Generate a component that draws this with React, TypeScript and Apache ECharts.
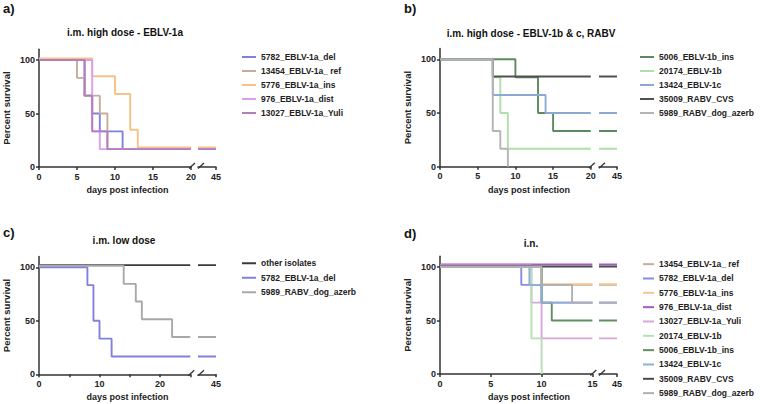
import React, { useEffect, useRef } from "react";
import * as echarts from "echarts";

const FONT = "'Liberation Sans', Arial, Helvetica, sans-serif";
const AXIS_COLOR = "#333333";
const TEXT_COLOR = "#222222";
const Y_MAX = 110;
const SEG2_START = 40;
const END_DAY = 45;
const Y_TICKS = [0, 50, 100];

// ---- Panel a: i.m. high dose - EBLV-1a
const namesA = ["5782_EBLV-1a_del", "13454_EBLV-1a_ ref", "5776_EBLV-1a_ins", "976_EBLV-1a_dist", "13027_EBLV-1a_Yuli"];
const colorsA = ["#8080e0", "#c8ab98", "#f5c384", "#dc9cf0", "#b57cbf"];
const daysA = [
  [0, 6, 7, 8, 11, 20],
  [0, 5, 6, 8, 9, 20],
  [0, 7, 10, 12, 13, 20],
  [0, 7, 8, 20],
  [0, 6, 7, 9, 20],
];
const survA = [
  [100, 66.7, 50, 33.3, 16.7, 16.7],
  [100, 83.3, 66.7, 50, 16.7, 16.7],
  [101.5, 84.8, 68.2, 34.8, 18.2, 18.2],
  [100, 33.3, 16.7, 16.7],
  [100, 66.7, 33.3, 16.7, 16.7],
];
const xTicksA = [0, 5, 10, 15, 20];
const xLabelsA = [0, 5, 10, 15, 20];

// ---- Panel b: i.m. high dose - EBLV-1b & c, RABV
const namesB = ["5006_EBLV-1b_ins", "20174_EBLV-1b", "13424_EBLV-1c", "35009_RABV_CVS", "5989_RABV_dog_azerb"];
const colorsB = ["#5d8a5d", "#ade0a8", "#8ca9d3", "#505050", "#b4b4b4"];
const daysB = [
  [0, 10, 13, 15, 20],
  [0, 7, 8, 9, 20],
  [0, 7, 14, 20],
  [0, 7, 20],
  [0, 7, 8, 9],
];
const survB = [
  [100, 83.3, 50, 33.3, 33.3],
  [100, 83.3, 50, 16.7, 16.7],
  [100, 66.7, 50, 50],
  [100, 84, 84],
  [100, 33.3, 16.7, 0],
];
const xTicksB = [0, 5, 10, 15, 20];
const xLabelsB = [0, 5, 10, 15, 20];

// ---- Panel c: i.m. low dose
const namesC = ["other isolates", "5782_EBLV-1a_del", "5989_RABV_dog_azerb"];
const colorsC = ["#3a3a3a", "#8080e0", "#a8a8a8"];
const daysC = [
  [0, 25],
  [0, 8, 9, 10, 12, 25],
  [0, 14, 16, 17, 22, 25],
];
const survC = [
  [102, 102],
  [100, 83.3, 50, 33.3, 16.7, 16.7],
  [101.5, 84.5, 68, 51.5, 34.8, 34.8],
];
const xTicksC = [0, 5, 10, 15, 20, 25];
const xLabelsC = [0, 10, 20];

// ---- Panel d: i.n.
const namesD = [
  "13454_EBLV-1a_ ref", "5782_EBLV-1a_del", "5776_EBLV-1a_ins", "976_EBLV-1a_dist", "13027_EBLV-1a_Yuli",
  "20174_EBLV-1b", "5006_EBLV-1b_ins", "13424_EBLV-1c", "35009_RABV_CVS", "5989_RABV_dog_azerb",
];
const colorsD = ["#c8ab98", "#8a8ae6", "#f3c58f", "#a35bc6", "#d6a6dc", "#b5e0b0", "#5f8f5f", "#8eaed6", "#4a4a4a", "#b0b0b0"];
const daysD = [
  [0, 10, 15],
  [0, 8, 10, 15],
  [0, 10, 15],
  [0, 15],
  [0, 9, 10, 15],
  [0, 9, 10],
  [0, 10, 11, 15],
  [0, 8.8, 10, 15],
  [0, 15],
  [0, 10, 13, 15],
];
const survD = [
  [100, 83.3, 83.3],
  [100, 83.3, 66.7, 66.7],
  [100.5, 84, 84],
  [102.5, 102.5],
  [101.5, 66.7, 33.3, 33.3],
  [100, 33.3, 0],
  [100, 66.7, 50, 50],
  [100, 83.3, 66.7, 66.7],
  [100.5, 100.5],
  [100, 83.3, 66.7, 66.7],
];
const xTicksD = [0, 5, 10, 15];
const xLabelsD = [0, 5, 10, 15];

const PANELS = [
  { letter: "a)", title: "i.m. high dose - EBLV-1a", names: namesA, colors: colorsA, days: daysA, surv: survA, breakDay: 20, xTicks: xTicksA, xLabels: xLabelsA },
  { letter: "b)", title: "i.m. high dose - EBLV-1b & c, RABV", names: namesB, colors: colorsB, days: daysB, surv: survB, breakDay: 20, xTicks: xTicksB, xLabels: xLabelsB },
  { letter: "c)", title: "i.m. low dose", names: namesC, colors: colorsC, days: daysC, surv: survC, breakDay: 25, xTicks: xTicksC, xLabels: xLabelsC },
  { letter: "d)", title: "i.n.", names: namesD, colors: colorsD, days: daysD, surv: survD, breakDay: 15, xTicks: xTicksD, xLabels: xLabelsD },
];

// layout (pixels)
const LAYOUTS = [
  { x0: 39, y0: 167, pxX: 7.6, pxY: 1.07, seg2L: 198, seg2R: 216, letter: [3, 8], title: [125, 32], xName: [127.5, 190], legend: [242, 50, 14, 14] },
  { x0: 440, y0: 166.7, pxX: 7.54, pxY: 1.074, seg2L: 599, seg2R: 617, letter: [404, 8], title: [531, 33], xName: [529, 190], legend: [640, 50, 14, 14] },
  { x0: 39, y0: 374.3, pxX: 6.05, pxY: 1.07, seg2L: 198, seg2R: 216, letter: [3, 232], title: [124, 240], xName: [127.5, 397], legend: [242, 256, 14, 14.5] },
  { x0: 440, y0: 374, pxX: 10.16, pxY: 1.07, seg2L: 599, seg2R: 617, letter: [404, 233], title: [531, 243], xName: [529, 397], legend: [643, 257, 11, 14.33] },
];

function buildOption() {
  const grid: any[] = [];
  const xAxis: any[] = [];
  const yAxis: any[] = [];
  const series: any[] = [];
  const title: any[] = [];
  const legend: any[] = [];
  const graphic: any[] = [];

  const axisLine = { show: true, lineStyle: { color: AXIS_COLOR, width: 1.5 } };
  const labelStyle = { fontSize: 9, fontWeight: "bold", color: TEXT_COLOR, fontFamily: FONT };

  PANELS.forEach((p, pi) => {
    const L = LAYOUTS[pi];
    const h = Y_MAX * L.pxY;
    const top = L.y0 - h;
    const w1 = p.breakDay * L.pxX;
    const g1 = grid.length;
    grid.push({ left: L.x0, top, width: w1, height: h, containLabel: false, outerBoundsMode: "none" });
    grid.push({ left: L.seg2L, top, width: L.seg2R - L.seg2L, height: h, containLabel: false, outerBoundsMode: "none" });

    xAxis.push({
      gridIndex: g1, type: "value", min: 0, max: p.breakDay,
      axisLine,
      axisTick: { show: true, length: 3, customValues: p.xTicks, lineStyle: { color: AXIS_COLOR, width: 1.5 } },
      axisLabel: { ...labelStyle, margin: 5, customValues: p.xLabels },
      splitLine: { show: false },
    });
    xAxis.push({
      gridIndex: g1 + 1, type: "value", min: SEG2_START, max: END_DAY,
      axisLine,
      axisTick: { show: true, length: 3, customValues: [END_DAY], lineStyle: { color: AXIS_COLOR, width: 1.5 } },
      axisLabel: { ...labelStyle, margin: 5, customValues: [END_DAY] },
      splitLine: { show: false },
    });
    yAxis.push({
      gridIndex: g1, type: "value", min: 0, max: Y_MAX,
      name: "Percent survival", nameLocation: "middle", nameGap: 28,
      nameTextStyle: { fontSize: 9.5, fontWeight: "bold", color: TEXT_COLOR, fontFamily: FONT },
      axisLine,
      axisTick: { show: true, length: 3, customValues: Y_TICKS, lineStyle: { color: AXIS_COLOR, width: 1.5 } },
      axisLabel: { ...labelStyle, margin: 4, customValues: Y_TICKS },
      splitLine: { show: false },
    });
    yAxis.push({ gridIndex: g1 + 1, type: "value", min: 0, max: Y_MAX, show: false, splitLine: { show: false } });

    p.names.forEach((name, si) => {
      const days = p.days[si];
      const surv = p.surv[si];
      const color = p.colors[si];
      series.push({
        type: "line", name, xAxisIndex: g1, yAxisIndex: g1,
        data: days.map((d, i) => [d, surv[i]]),
        step: "end", symbol: "none", silent: true,
        lineStyle: { color, width: 1.9 }, itemStyle: { color },
      });
      if (days[days.length - 1] === p.breakDay) {
        const last = surv[surv.length - 1];
        series.push({
          type: "line", name, xAxisIndex: g1 + 1, yAxisIndex: g1 + 1,
          data: [[SEG2_START, last], [END_DAY, last]],
          symbol: "none", silent: true,
          lineStyle: { color, width: 1.9 }, itemStyle: { color },
        });
      }
    });

    title.push({
      text: p.letter, left: L.letter[0], top: L.letter[1], padding: 0,
      textAlign: "left", textVerticalAlign: "middle",
      textStyle: { fontSize: 13, fontWeight: "bold", color: "#111", fontFamily: FONT },
    });
    title.push({
      text: p.title, left: L.title[0], top: L.title[1], padding: 0,
      textAlign: "center", textVerticalAlign: "middle",
      textStyle: { fontSize: 10, fontWeight: "bold", color: "#111", fontFamily: FONT },
    });
    title.push({
      text: "days post infection", left: L.xName[0], top: L.xName[1], padding: 0,
      textAlign: "center", textVerticalAlign: "middle",
      textStyle: { fontSize: 9, fontWeight: "bold", color: TEXT_COLOR, fontFamily: FONT },
    });

    legend.push({
      orient: "vertical", left: L.legend[0], top: L.legend[1], padding: 0,
      itemWidth: L.legend[2], itemHeight: 2, itemGap: 0, icon: "rect",
      selectedMode: false,
      textStyle: { fontSize: 8.5, fontWeight: "bold", color: TEXT_COLOR, fontFamily: FONT, lineHeight: L.legend[3] },
      data: p.names.map((n, i) => ({ name: n, itemStyle: { color: p.colors[i] } })),
    });

    // axis break marks
    const r = L.x0 + w1;
    const y = L.y0;
    graphic.push({ type: "line", shape: { x1: r - 2, y1: y + 1.5, x2: r + 4, y2: y - 4 }, style: { stroke: AXIS_COLOR, lineWidth: 1.3 } });
    graphic.push({ type: "line", shape: { x1: L.seg2L, y1: y + 1.5, x2: L.seg2L + 6, y2: y - 4 }, style: { stroke: AXIS_COLOR, lineWidth: 1.3 } });
  });

  return {
    animation: false,
    backgroundColor: "#ffffff",
    title, legend, grid, xAxis, yAxis, series, graphic,
  };
}

export default function App() {
  const ref = useRef<HTMLDivElement>(null);
  useEffect(() => {
    if (!ref.current) return;
    const chart = echarts.init(ref.current, undefined, { renderer: "svg" });
    chart.setOption(buildOption() as any);
    return () => chart.dispose();
  }, []);
  return <div ref={ref} style={{ position: "fixed", left: 0, top: 0, width: 760, height: 404 }} />;
}
